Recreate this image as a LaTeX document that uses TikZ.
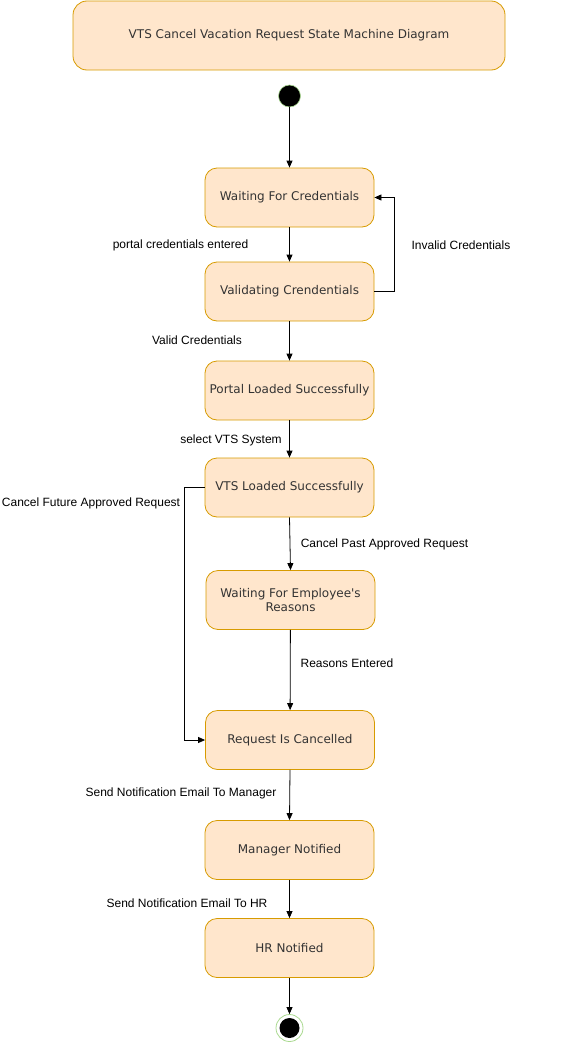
\documentclass[tikz,border=0pt]{standalone}
\usepackage{fontspec}
\setmainfont{Liberation Sans}
\newfontfamily\boxfont{DejaVu Sans}
\usetikzlibrary{arrows.meta}
\definecolor{boxfill}{HTML}{FFE6CC}
\definecolor{boxdraw}{HTML}{D79B00}
\definecolor{ringgreen}{HTML}{A9D98F}
\definecolor{txt}{HTML}{333333}
\tikzset{
  state/.style={draw=boxdraw, fill=boxfill, rounded corners=12pt, minimum width=169pt, minimum height=59pt, align=center, font=\boxfont\fontsize{12}{14.5}\selectfont, text=txt, line width=0.8pt},
  lbl/.style={font=\fontsize{12}{14}\selectfont, text=black, inner sep=1pt},
  arr/.style={-{Triangle[length=7pt,width=6pt]}, line width=0.8pt}
}
\begin{document}
\begin{tikzpicture}[x=1pt,y=-1pt]
\useasboundingbox (0,0) rectangle (560,1044);
\node[state, minimum width=432pt, minimum height=69pt, rounded corners=14pt] (title) at (289,35.5) {VTS Cancel Vacation Request State Machine Diagram};
\node[circle, fill=black, draw=ringgreen, line width=0.6pt, minimum size=22pt, inner sep=0pt] (init) at (289.5,96) {};
\node[state] (wait) at (289.5,197.5) {Waiting For Credentials};
\node[state] (valid) at (289.5,291.5) {Validating Crendentials};
\node[state] (portal) at (289.5,390.5) {Portal Loaded Successfully};
\node[state] (vts) at (289.5,487.5) {VTS Loaded Successfully};
\node[state] (reasons) at (290.5,600) {Waiting For Employee's\\Reasons};
\node[state] (cancel) at (290,740) {Request Is Cancelled};
\node[state] (mgr) at (289.5,850) {Manager Notified};
\node[state] (hr) at (289.5,948) {HR Notified};
\node[circle, draw=ringgreen, line width=0.8pt, minimum size=27pt, inner sep=0pt] (final) at (289.5,1028) {};
\node[circle, fill=black, minimum size=20pt, inner sep=0pt] (finalin) at (289.5,1028) {};
\coordinate (loopr) at (394,291.5);
\coordinate (loopt) at (394,197.5);
\coordinate (fl) at (184,487.5);
\coordinate (fb) at (184,740);
\draw[arr] (init) -- (wait);
\draw[arr] (wait) -- (valid);
\draw[arr] (valid.east) -- (loopr) -- (loopt) -- (wait.east);
\draw[arr] (valid) -- (portal);
\draw[arr] (portal) -- (vts);
\draw[arr] (vts.south) -- (reasons.north);
\draw[arr] (reasons) -- (cancel);
\draw[arr] (vts.west) -- (fl) -- (fb) -- (cancel.west);
\draw[arr] (cancel.south) -- (mgr.north);
\draw[arr] (mgr) -- (hr);
\draw[arr] (hr) -- (final);
\node[lbl] (l1) at (180.5,245) {portal credentials entered};
\node[lbl] (l2) at (461,245) {Invalid Credentials};
\node[lbl] (l3) at (197,340.5) {Valid Credentials};
\node[lbl] (l4) at (231,440) {select VTS System};
\node[lbl] (l5) at (91,503.5) {Cancel Future Approved Request};
\node[lbl] (l6) at (384.5,544) {Cancel Past Approved Request};
\node[lbl] (l7) at (347,663.5) {Reasons Entered};
\node[lbl] (l8) at (181,793.5) {Send Notification Email To Manager};
\node[lbl] (l9) at (187,903.5) {Send Notification Email To HR};
\end{tikzpicture}
\end{document}
